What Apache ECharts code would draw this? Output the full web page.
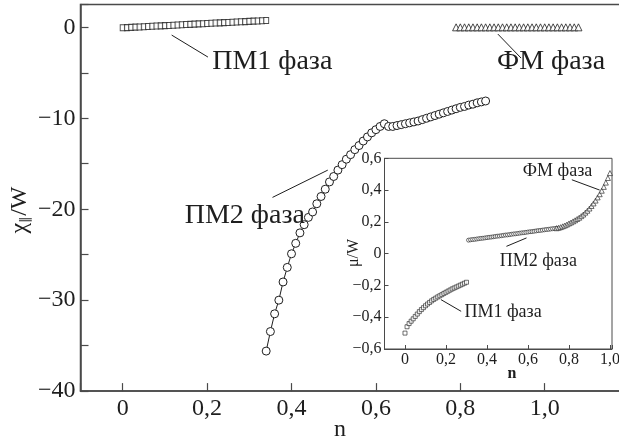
<!DOCTYPE html>
<html><head><meta charset="utf-8">
<script src="https://cdn.jsdelivr.net/npm/echarts@6/dist/echarts.min.js"></script>
<style>html,body{margin:0;padding:0;background:#fff}#c{width:619px;height:443px}</style>
</head><body><div id="c"></div>
<script>
// ---------- main plot data ----------
const mainPM1N = [0,0.01,0.02,0.03,0.04,0.05,0.06,0.07,0.08,0.09,0.10,0.11,0.12,0.13,0.14,0.15,0.16,0.17,0.18,0.19,0.20,0.21,0.22,0.23,0.24,0.25,0.26,0.27,0.28,0.29,0.30,0.31,0.32,0.33,0.34];
const mainPM1Chi = [-0.05,-0.03,0.0,0.02,0.04,0.07,0.09,0.12,0.14,0.16,0.19,0.21,0.23,0.26,0.28,0.31,0.33,0.35,0.38,0.40,0.42,0.45,0.47,0.49,0.52,0.54,0.56,0.59,0.61,0.63,0.66,0.68,0.70,0.72,0.75];

const mainPM2N = [0.34,0.35,0.36,0.37,0.38,0.39,0.40,0.41,0.42,0.43,0.44,0.45,0.46,0.47,0.48,0.49,0.50,0.51,0.52,0.53,0.54,0.55,0.56,0.57,0.58,0.59,0.60,0.61,0.62,
  0.63,0.64,0.65,0.66,0.67,0.68,0.69,0.70,0.71,0.72,0.73,0.74,0.75,0.76,0.77,0.78,0.79,0.80,0.81,0.82,0.83,0.84,0.85,0.86];
const mainPM2Chi = [-35.6,-33.45,-31.5,-30.0,-28.0,-26.4,-24.9,-23.75,-22.6,-21.7,-20.9,-20.3,-19.4,-18.6,-17.8,-17.0,-16.4,-15.7,-15.1,-14.5,-14.0,-13.45,-13.0,-12.5,-12.05,-11.6,-11.25,-10.9,-10.6,
  -10.9,-10.9,-10.8,-10.7,-10.6,-10.5,-10.4,-10.3,-10.15,-10.0,-9.85,-9.7,-9.55,-9.4,-9.25,-9.1,-8.95,-8.8,-8.7,-8.55,-8.45,-8.3,-8.2,-8.1];

const mainFMN = [0.79,0.80,0.81,0.82,0.83,0.84,0.85,0.86,0.87,0.88,0.89,0.90,0.91,0.92,0.93,0.94,0.95,0.96,0.97,0.98,0.99,1.00,1.01,1.02,1.03,1.04,1.05,1.06,1.07,1.08];
const mainFMChi = [0,0,0,0,0,0,0,0,0,0,0,0,0,0,0,0,0,0,0,0,0,0,0,0,0,0,0,0,0,0];

// ---------- inset data ----------
const insetPM1N = [0,0.01,0.02,0.03,0.04,0.05,0.06,0.07,0.08,0.09,0.10,0.11,0.12,0.13,0.14,0.15,0.16,0.17,0.18,0.19,0.20,0.21,0.22,0.23,0.24,0.25,0.26,0.27,0.28,0.29,0.30];
const insetPM1Mu = [-0.50,-0.46,-0.44,-0.425,-0.41,-0.395,-0.38,-0.365,-0.352,-0.34,-0.328,-0.317,-0.307,-0.297,-0.288,-0.28,-0.272,-0.265,-0.258,-0.25,-0.243,-0.236,-0.229,-0.222,-0.216,-0.21,-0.204,-0.198,-0.192,-0.186,-0.18];

const insetPM2N = [0.31,0.32,0.33,0.34,0.35,0.36,0.37,0.38,0.39,0.40,0.41,0.42,0.43,0.44,0.45,0.46,0.47,0.48,0.49,0.50,0.51,0.52,0.53,0.54,0.55,0.56,0.57,0.58,0.59,0.60,0.61,0.62,0.63,0.64,0.65,0.66,0.67,0.68,0.69,0.70,0.71,0.72,0.73,0.74];
const insetPM2Mu = [0.085,0.087,0.089,0.090,0.092,0.094,0.096,0.097,0.099,0.101,0.103,0.104,0.106,0.108,0.110,0.111,0.113,0.115,0.117,0.118,0.120,0.122,0.124,0.125,0.127,0.129,0.131,0.132,0.134,0.136,0.138,0.139,0.141,0.143,0.145,0.146,0.148,0.150,0.152,0.153,0.155,0.157,0.158,0.160];

const insetFMN = [0.74,0.75,0.76,0.77,0.78,0.79,0.80,0.81,0.82,0.83,0.84,0.85,0.86,0.87,0.88,0.89,0.90,0.91,0.92,0.93,0.94,0.95,0.96,0.97,0.98,0.99,1.00];
const insetFMMu = [0.16,0.163,0.167,0.172,0.177,0.183,0.19,0.196,0.203,0.21,0.218,0.226,0.236,0.246,0.258,0.27,0.284,0.30,0.316,0.334,0.354,0.374,0.396,0.42,0.447,0.476,0.507];

// ---------- annotations (data coordinates) ----------
const mainLabels = [
  {text:'ПМ1 фаза', at:[0.212,-3.8], line:[[0.116,-0.85],[0.202,-3.27]]},
  {text:'ФМ фаза',  at:[0.887,-3.8], line:[[0.889,-0.74],[0.944,-3.38]]},
  {text:'ПМ2 фаза', at:[0.147,-20.7], line:[[0.355,-18.7],[0.486,-15.7]]}
];
const insetLabels = [
  {text:'ФМ фаза',  at:[0.575,0.516], line:[[0.814,0.465],[0.95,0.40]]},
  {text:'ПМ2 фаза', at:[0.462,-0.05], line:[[0.495,0.046],[0.593,0.099]]},
  {text:'ПМ1 фаза', at:[0.29,-0.371], line:[[0.175,-0.289],[0.274,-0.363]]}
];

const FONT = '"Liberation Serif","Times New Roman",serif';
const INK = '#1e1e1e';
const AX = '#4a4a4a';
const zip = (a,b) => a.map((v,i)=>[v,b[i]]);
const fmtNum = (v, step, maxShown) => {
  if (maxShown !== undefined && v > maxShown + 1e-9) return '';
  const k = v/step;
  if (Math.abs(k-Math.round(k))>1e-6) return '';
  if (Math.abs(v)<1e-9) return '0';
  const s = Math.abs(v).toFixed(step<1?1:0).replace('.',',');
  return (v<0?'\u2212':'')+s;
};

const chart = echarts.init(document.getElementById('c'), null, {renderer:'canvas'});
const opt = {
  animation:false,
  backgroundColor:'#fff',
  textStyle:{fontFamily:FONT},
  grid:[
    {left:80.5, top:4.6, width:548.6, height:386.5, show:true, borderColor:AX, borderWidth:1.5, backgroundColor:'transparent', outerBoundsMode:'none', containLabel:false, z:0},
    {left:384.5, top:158.3, width:227.5, height:190.7, show:true, borderColor:AX, borderWidth:1, backgroundColor:'#fff', outerBoundsMode:'none', containLabel:false, z:5}
  ],
  xAxis:[
    {gridIndex:0, type:'value', min:-0.1, max:1.2, splitNumber:7,
     axisLine:{onZero:false, lineStyle:{color:AX,width:1.5}},
     axisTick:{inside:true,length:8,lineStyle:{color:AX,width:1.2}},
     axisLabel:{color:INK,fontSize:24,fontFamily:FONT,margin:6,formatter:v=>fmtNum(v,0.2,1.0)},
     splitLine:{show:false}},
    {gridIndex:1, type:'value', min:-0.1, max:1.01, splitNumber:6, z:6,
     axisLine:{onZero:false, lineStyle:{color:AX,width:1}},
     axisTick:{inside:true,length:4,lineStyle:{color:AX,width:1}},
     axisLabel:{color:INK,fontSize:16,fontFamily:FONT,margin:3,formatter:v=>fmtNum(v,0.2,1.0)},
     splitLine:{show:false}}
  ],
  yAxis:[
    {gridIndex:0, type:'value', min:-40, max:2.5, interval:5,
     axisLine:{onZero:false, lineStyle:{color:AX,width:1.5}},
     axisTick:{inside:true,length:8,lineStyle:{color:AX,width:1.2}},
     axisLabel:{color:INK,fontSize:24,fontFamily:FONT,margin:5,formatter:v=>fmtNum(v,10)},
     splitLine:{show:false}},
    {gridIndex:1, type:'value', min:-0.6, max:0.6, interval:0.2, z:6,
     axisLine:{onZero:false, lineStyle:{color:AX,width:1}},
     axisTick:{inside:true,length:4,lineStyle:{color:AX,width:1}},
     axisLabel:{color:INK,fontSize:16,fontFamily:FONT,margin:3,formatter:v=>fmtNum(v,0.2)},
     splitLine:{show:false}}
  ],
  series:[
    {type:'scatter', xAxisIndex:0, yAxisIndex:0, data:zip(mainPM1N,mainPM1Chi), symbol:'rect', symbolSize:[5,6],
     itemStyle:{color:'#fff',borderColor:INK,borderWidth:1}},
    {type:'scatter', xAxisIndex:0, yAxisIndex:0, data:zip(mainFMN,mainFMChi), symbol:'triangle', symbolSize:[7,7],
     itemStyle:{color:'#fff',borderColor:INK,borderWidth:1}},
    {type:'line', xAxisIndex:0, yAxisIndex:0, data:zip(mainPM2N,mainPM2Chi), symbol:'circle', symbolSize:8, showAllSymbol:true,
     lineStyle:{color:INK,width:1}, itemStyle:{color:'#fff',borderColor:INK,borderWidth:1}},
    {type:'scatter', xAxisIndex:1, yAxisIndex:1, data:zip(insetPM1N,insetPM1Mu), symbol:'rect', symbolSize:4, z:7,
     itemStyle:{color:'#fff',borderColor:INK,borderWidth:0.8}},
    {type:'scatter', xAxisIndex:1, yAxisIndex:1, data:zip(insetPM2N,insetPM2Mu), symbol:'circle', symbolSize:4, z:7,
     itemStyle:{color:'#fff',borderColor:INK,borderWidth:0.8}},
    {type:'scatter', xAxisIndex:1, yAxisIndex:1, data:zip(insetFMN,insetFMMu), symbol:'triangle', symbolSize:5, z:7,
     itemStyle:{color:'#fff',borderColor:INK,borderWidth:0.8}}
  ]
};
chart.setOption(opt);

const g = [];
function addLabels(list, gi, fs) {
  list.forEach(l => {
    const p = chart.convertToPixel({gridIndex:gi}, l.at);
    g.push({type:'text', x:p[0], y:p[1], z:20, style:{text:l.text, fill:INK, font:fs+'px '+FONT, textAlign:'left', textVerticalAlign:'middle'}});
    const a = chart.convertToPixel({gridIndex:gi}, l.line[0]);
    const b = chart.convertToPixel({gridIndex:gi}, l.line[1]);
    g.push({type:'line', z:20, shape:{x1:a[0],y1:a[1],x2:b[0],y2:b[1]}, style:{stroke:INK,lineWidth:1}});
  });
}
addLabels(mainLabels, 0, 28);
addLabels(insetLabels, 1, 18);
// axis titles
g.push({type:'text', x:340, y:430, z:20, style:{text:'n', fill:INK, font:'24px '+FONT, textAlign:'center', textVerticalAlign:'middle'}});
g.push({type:'text', x:512, y:374, z:20, style:{text:'n', fill:INK, font:'bold 16px '+FONT, textAlign:'center', textVerticalAlign:'middle'}});
g.push({type:'text', x:20, y:210, rotation:Math.PI/2, z:20, style:{text:'{a|χ}{s|∥}{a|/W}', fill:INK, textAlign:'center', textVerticalAlign:'middle',
  rich:{a:{fontSize:24,fontFamily:FONT,fill:INK}, s:{fontSize:13,fontFamily:FONT,fill:INK,padding:[12,0,0,0]}}}});
g.push({type:'text', x:354, y:253, rotation:Math.PI/2, z:20, style:{text:'μ/W', fill:INK, font:'16px '+FONT, textAlign:'center', textVerticalAlign:'middle'}});
chart.setOption({graphic:g});
</script></body></html>
